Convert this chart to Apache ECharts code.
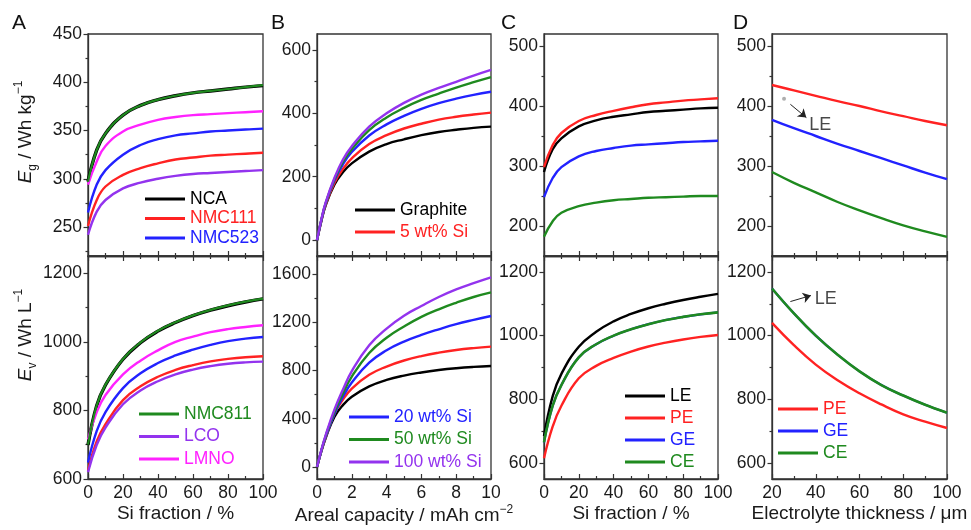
<!DOCTYPE html>
<html><head><meta charset="utf-8">
<script src="https://cdn.jsdelivr.net/npm/echarts@6/dist/echarts.min.js"></script>
<style>html,body{margin:0;padding:0;background:#fff}#c{width:971px;height:530px}</style>
</head><body><div id="c"></div>
<script>
// ---------- X values ----------
const siFraction = [0,5,10,20,30,40,50,60,70,80,90,100];
const arealCapacity = [0,0.25,0.5,1,1.5,2,3,4,5,6,7,8,9,10];
const thickness = [20,30,40,50,60,70,80,90,100];

// ---------- Panel A : cathodes vs Si fraction ----------
const A_g_NCA    = [297,330,347,366,376,382,386,389,391,393,395,396.5];
const A_g_NMC111 = [251,278,292,304,311,316,320,322,324,325,326,327];
const A_g_NMC523 = [265,294,309,325,335,341,345,347,349,350,351,352];
const A_g_NMC811 = [297,330,347,366,376,382,386,389,391,393,395,397];
const A_g_LCO    = [242,266,278,290,296,300,303,305,306,307,308,309];
const A_g_LMNO   = [294,318,334,349,356,361,364,366,367,368,369,370];

const A_v_NCA    = [699,814,874,949,997,1031,1056,1076,1092,1105,1116,1125];
const A_v_NMC111 = [625,710,760,830,870,898,918,932,943,950,955,958];
const A_v_NMC523 = [648,740,795,865,908,938,960,977,991,1002,1009,1014];
const A_v_NMC811 = [700,815,875,950,998,1032,1057,1077,1093,1106,1117,1126];
const A_v_LCO    = [620,700,750,818,858,885,905,919,929,936,940,942];
const A_v_LMNO   = [715,795,845,905,945,975,1000,1015,1028,1037,1043,1048];

// ---------- Panel B : areal capacity ----------
const B_g_Graphite = [0,60,110,175,215,242,279,303,318,331,341,348,354,358];
const B_g_Si5      = [0,62,112,180,225,258,303,331,352,367,380,389,396,402];
const B_g_Si20     = [0,63,115,188,240,278,330,365,392,414,432,446,458,468];
const B_g_Si50     = [0,64,117,192,248,287,347,387,417,442,462,481,498,514];
const B_g_Si100    = [0,65,119,196,255,296,358,400,433,459,480,499,519,537];

const B_v_Graphite = [0,130,240,415,515,582,668,722,758,784,804,819,830,838];
const B_v_Si5      = [0,132,245,440,560,650,764,833,883,920,948,970,986,998];
const B_v_Si20     = [0,134,250,440,585,700,865,968,1040,1095,1142,1185,1220,1252];
const B_v_Si50     = [0,136,258,455,612,750,945,1072,1165,1245,1308,1362,1410,1448];
const B_v_Si100    = [0,140,265,475,645,795,1010,1148,1255,1335,1410,1473,1525,1573];

// ---------- Panel C : electrolytes vs Si fraction ----------
const C_g_LE = [290,328,346,366,376,382,386,390,392,394,396,397];
const C_g_PE = [298,335,355,375,385,392,398,403,406,409,411,413];
const C_g_GE = [248,280,298,316,325,330,334,336,338,340,341,342];
const C_g_CE = [182,208,222,233,239,243,245,247,248,249,250,250];

const C_v_LE = [685,810,880,965,1012,1045,1068,1086,1100,1112,1122,1131];
const C_v_PE = [615,715,780,866,905,930,950,966,978,988,996,1002];
const C_v_GE = [665,780,845,932,973,1000,1020,1036,1049,1059,1067,1073];
const C_v_CE = [665,780,845,932,973,1000,1020,1036,1049,1059,1067,1073];

// ---------- Panel D : electrolyte thickness ----------
const D_g_PE = [435,426,417,408,400,391,383,375,368];
const D_g_GE = [377,363,350,337,325,313,301,289,278];
const D_g_CE = [290,272,256,240,226,213,201,191,182];

const D_v_PE = [1040,970,909,860,819,784,753,730,710];
const D_v_GE = [1148,1070,1000,940,888,845,812,783,758];
const D_v_CE = [1148,1070,1000,940,888,845,812,783,758];

// annotations (data coordinates)
const D_g_LEpoint = [25.5, 412];
const D_g_arrow = [[28.4, 402.8], [35.7, 380.7]];
const D_g_LElabel = [37, 368];
const D_v_arrow = [[28.4, 1107], [37.8, 1126]];
const D_v_LElabel = [39.5, 1115];

// ---------- axis tick labels ----------
const yTicks = [
  {min:220, max:450,  major:[250,300,350,400,450], minor:[225,275,325,375,425]},
  {min:600, max:1250, major:[600,800,1000,1200],   minor:[700,900,1100]},
  {min:-50, max:650,  major:[0,200,400,600],       minor:[100,300,500]},
  {min:-100,max:1750, major:[0,400,800,1200,1600], minor:[200,600,1000,1400]},
  {min:150, max:520,  major:[200,300,400,500],     minor:[250,350,450]},
  {min:550, max:1250, major:[600,800,1000,1200],   minor:[700,900,1100]},
  {min:150, max:520,  major:[200,300,400,500],     minor:[250,350,450]},
  {min:550, max:1250, major:[600,800,1000,1200],   minor:[700,900,1100]}
];
const xTicks = [
  {min:0, max:100, interval:20, name:'Si fraction / %'},
  {min:0, max:10, interval:2, name:'{n|Areal capacity / mAh cm}{p|−2}'},
  {min:0, max:100, interval:20, name:'Si fraction / %'},
  {min:20, max:100, interval:20, name:'Electrolyte thickness / μm'}
];

// ---------- styling ----------
const FONT = '"Liberation Sans", Arial, sans-serif';
const AX = '#333333';
const TXT = '#1a1a1a';
const COL = {black:'#000000', red:'#ff2222', blue:'#2222ff', green:'#1f8a1f', purple:'#9333ee', magenta:'#ff22ff'};

const grids = [
  {left:88, top:34, width:175, height:222}, {left:88, top:256, width:175, height:223},
  {left:317, top:34, width:174, height:222}, {left:317, top:256, width:174, height:223},
  {left:544, top:34, width:174, height:222}, {left:544, top:256, width:174, height:223},
  {left:772, top:34, width:175, height:222}, {left:772, top:256, width:175, height:223}
].map(g => Object.assign({show:true, borderColor:AX, borderWidth:1.3, backgroundColor:'transparent'}, g));

const lineSty = {color:AX, width:1.2};
const plain = v => String(v);
const xAxis = [], yAxis = [], xIdx = [], yIdx = [];
for (let g = 0; g < 8; g++) {
  const p = Math.floor(g / 2), isTop = g % 2 === 0;
  const xs = xTicks[p];
  xIdx[g] = xAxis.length;
  xAxis.push({
    type:'value', gridIndex:g, min:xs.min, max:xs.max, interval:xs.interval, position:'bottom',
    axisLine:{show:true, onZero:false, lineStyle:{color:AX, width:1.3}},
    axisTick:{show:true, inside:true, length:5, lineStyle:lineSty},
    minorTick:{show:true, splitNumber:2, length:3, lineStyle:lineSty},
    splitLine:{show:false}, minorSplitLine:{show:false},
    axisLabel: isTop ? {show:false} : {show:true, formatter:plain, fontSize:17.5, color:TXT, fontFamily:FONT, margin:5},
    name: isTop ? '' : xs.name, nameLocation:'middle', nameGap:25,
    nameTextStyle:{fontSize:19, color:TXT, fontFamily:FONT,
      rich:{n:{fontSize:19, color:TXT, fontFamily:FONT, lineHeight:24}, p:{fontSize:12, color:TXT, fontFamily:FONT, verticalAlign:'top', lineHeight:12}}}
  });
  if (!isTop) {
    xAxis.push({
      type:'value', gridIndex:g, min:xs.min, max:xs.max, interval:xs.interval, position:'top',
      axisLine:{show:true, onZero:false, lineStyle:{color:AX, width:1.3}},
      axisTick:{show:true, inside:true, length:5, lineStyle:lineSty},
      minorTick:{show:true, splitNumber:2, length:3, lineStyle:lineSty},
      splitLine:{show:false}, axisLabel:{show:false}
    });
  }
  const ys = yTicks[g];
  yIdx[g] = yAxis.length;
  yAxis.push({
    type:'value', gridIndex:g, min:ys.min, max:ys.max, position:'left', offset:0,
    axisLine:{show:true, onZero:false, lineStyle:{color:AX, width:1.3}},
    axisTick:{show:true, inside:false, length:4.5, customValues:ys.major, lineStyle:lineSty},
    axisLabel:{show:true, customValues:ys.major, formatter:plain, fontSize:17.5, color:TXT, fontFamily:FONT, margin:6},
    splitLine:{show:false}
  });
  yAxis.push({
    type:'value', gridIndex:g, min:ys.min, max:ys.max, position:'left', offset:0,
    axisLine:{show:false}, axisTick:{show:true, inside:false, length:2.5, customValues:ys.minor, lineStyle:lineSty},
    axisLabel:{show:false}, splitLine:{show:false}
  });
}

const zip = (xs, ys) => xs.map((x, i) => [x, ys[i]]);
const series = [];
function line(name, g, xs, ys, color, width, z) {
  series.push({type:'line', name, xAxisIndex:xIdx[g], yAxisIndex:yIdx[g], data:zip(xs, ys),
    smooth:0.45, showSymbol:false, symbol:'none', z:z || 2,
    lineStyle:{color, width:width || 2.4}, itemStyle:{color}});
}
// A
line('NCA', 0, siFraction, A_g_NCA, COL.black, 3.4, 2);
line('NMC111', 0, siFraction, A_g_NMC111, COL.red);
line('NMC523', 0, siFraction, A_g_NMC523, COL.blue);
line('NMC811', 0, siFraction, A_g_NMC811, COL.green, 2.2, 3);
line('LCO', 0, siFraction, A_g_LCO, COL.purple);
line('LMNO', 0, siFraction, A_g_LMNO, COL.magenta);
line('NCA', 1, siFraction, A_v_NCA, COL.black, 3.4, 2);
line('NMC111', 1, siFraction, A_v_NMC111, COL.red);
line('NMC523', 1, siFraction, A_v_NMC523, COL.blue);
line('NMC811', 1, siFraction, A_v_NMC811, COL.green, 2.2, 3);
line('LCO', 1, siFraction, A_v_LCO, COL.purple);
line('LMNO', 1, siFraction, A_v_LMNO, COL.magenta);
// B
line('Graphite', 2, arealCapacity, B_g_Graphite, COL.black);
line('5 wt% Si', 2, arealCapacity, B_g_Si5, COL.red);
line('20 wt% Si', 2, arealCapacity, B_g_Si20, COL.blue);
line('50 wt% Si', 2, arealCapacity, B_g_Si50, COL.green);
line('100 wt% Si', 2, arealCapacity, B_g_Si100, COL.purple);
line('Graphite', 3, arealCapacity, B_v_Graphite, COL.black);
line('5 wt% Si', 3, arealCapacity, B_v_Si5, COL.red);
line('20 wt% Si', 3, arealCapacity, B_v_Si20, COL.blue);
line('50 wt% Si', 3, arealCapacity, B_v_Si50, COL.green);
line('100 wt% Si', 3, arealCapacity, B_v_Si100, COL.purple);
// C
line('LE', 4, siFraction, C_g_LE, COL.black);
line('PE', 4, siFraction, C_g_PE, COL.red);
line('GE', 4, siFraction, C_g_GE, COL.blue);
line('CE', 4, siFraction, C_g_CE, COL.green);
line('LE', 5, siFraction, C_v_LE, COL.black);
line('PE', 5, siFraction, C_v_PE, COL.red);
line('GE', 5, siFraction, C_v_GE, COL.blue, 2.2, 2);
line('CE', 5, siFraction, C_v_CE, COL.green, 2.6, 3);
// D
line('PE', 6, thickness, D_g_PE, COL.red);
line('GE', 6, thickness, D_g_GE, COL.blue);
line('CE', 6, thickness, D_g_CE, COL.green);
line('PE', 7, thickness, D_v_PE, COL.red);
line('GE', 7, thickness, D_v_GE, COL.blue, 2.2, 2);
line('CE', 7, thickness, D_v_CE, COL.green, 2.6, 3);

// annotations
const arrowMark = (pts) => ({silent:true, symbol:['none','arrow'], symbolSize:8, animation:false,
  lineStyle:{color:'#222', width:1, type:'solid'}, label:{show:false},
  data:[[{coord:pts[0]}, {coord:pts[1]}]]});
series.push({type:'scatter', name:'_ledot', xAxisIndex:xIdx[6], yAxisIndex:yIdx[6], data:[D_g_LEpoint],
  symbolSize:4, itemStyle:{color:'#9a9a9a'}, z:4, markLine:arrowMark(D_g_arrow)});
series.push({type:'scatter', name:'_lelab1', xAxisIndex:xIdx[6], yAxisIndex:yIdx[6], data:[D_g_LElabel],
  symbolSize:0, label:{show:true, position:'right', distance:0, formatter:'LE', fontSize:18, color:TXT, fontFamily:FONT}});
series.push({type:'scatter', name:'_lelab2', xAxisIndex:xIdx[7], yAxisIndex:yIdx[7], data:[D_v_LElabel],
  symbolSize:0, label:{show:true, position:'right', distance:0, formatter:'LE', fontSize:18, color:TXT, fontFamily:FONT},
  markLine:arrowMark(D_v_arrow)});

function legend(names, colors, left, top, gap) {
  return {orient:'vertical', left, top, padding:0, itemGap:gap, itemWidth:40, itemHeight:3, icon:'rect',
    selectedMode:false, textStyle:{fontSize:17.5, fontFamily:FONT, lineHeight:18},
    data:names.map((n, i) => ({name:n, textStyle:{color:colors[i]}}))};
}
const legends = [
  legend(['NCA','NMC111','NMC523'], [COL.black, COL.red, COL.blue], 145, 190, 1.5),
  legend(['NMC811','LCO','LMNO'], [COL.green, COL.purple, COL.magenta], 139, 405, 4.5),
  legend(['Graphite','5 wt% Si'], [COL.black, COL.red], 355, 201, 4),
  legend(['20 wt% Si','50 wt% Si','100 wt% Si'], [COL.blue, COL.green, COL.purple], 349, 408, 4.5),
  legend(['LE','PE','GE','CE'], [COL.black, COL.red, COL.blue, COL.green], 625, 387, 4),
  legend(['PE','GE','CE'], [COL.red, COL.blue, COL.green], 778, 400, 4)
];

const titleRich = {
  n:{fontSize:19, fontFamily:FONT, fill:TXT, lineHeight:26},
  i:{fontSize:19, fontFamily:FONT, fill:TXT, fontStyle:'italic', lineHeight:26},
  s:{fontSize:12, fontFamily:FONT, fill:TXT, verticalAlign:'bottom', lineHeight:12},
  p:{fontSize:12, fontFamily:FONT, fill:TXT, verticalAlign:'top', lineHeight:12}
};
const letter = (t, left) => ({type:'text', left, top:13, style:{text:t, font:'21px "Liberation Sans", Arial', fill:'#111'}});
const graphic = [
  letter('A', 12), letter('B', 271), letter('C', 501), letter('D', 733),
  {type:'text', x:26, y:132, rotation:Math.PI/2, style:{text:'{i|E}{s|g}{n| / Wh kg}{p|−1}', rich:titleRich,
    align:'center', verticalAlign:'middle', fill:TXT, font:'19px "Liberation Sans", Arial'}},
  {type:'text', x:26, y:335, rotation:Math.PI/2, style:{text:'{i|E}{s|v}{n| / Wh L}{p|−1}', rich:titleRich,
    align:'center', verticalAlign:'middle', fill:TXT, font:'19px "Liberation Sans", Arial'}}
];

const chart = echarts.init(document.getElementById('c'), null, {renderer:'canvas'});
chart.setOption({animation:false, backgroundColor:'#ffffff', grid:grids, xAxis, yAxis, series, legend:legends, graphic});
</script></body></html>
